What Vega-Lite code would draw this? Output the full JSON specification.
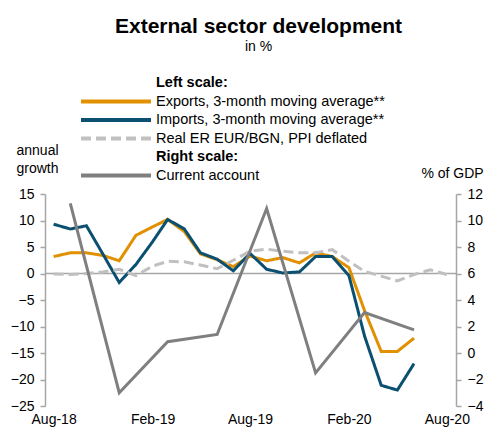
{
  "$schema": "https://vega.github.io/schema/vega-lite/v6.json",
  "width": 411,
  "height": 212,
  "autosize": {"type": "none"},
  "padding": {"left": 45, "top": 194, "right": 32, "bottom": 24},
  "config": {
    "font": "Liberation Sans",
    "view": {"stroke": null},
    "axis": {"grid": false, "labelOverlap": false}
  },
  "title": {
    "text": "External sector development",
    "subtitle": "in %",
    "fontSize": 21,
    "fontWeight": "bold",
    "color": "black",
    "subtitleFontSize": 14,
    "subtitleColor": "black",
    "subtitlePadding": 3,
    "anchor": "middle",
    "frame": "group",
    "dx": 8,
    "offset": 20
  },
  "datasets": {
    "main": [
      {"date": "2018-08-01T00:00", "series": "Exports, 3-month moving average**", "value": 3.2},
      {"date": "2018-09-01T00:00", "series": "Exports, 3-month moving average**", "value": 3.9},
      {"date": "2018-10-01T00:00", "series": "Exports, 3-month moving average**", "value": 3.9},
      {"date": "2018-11-01T00:00", "series": "Exports, 3-month moving average**", "value": 3.4},
      {"date": "2018-12-01T00:00", "series": "Exports, 3-month moving average**", "value": 2.4},
      {"date": "2019-01-01T00:00", "series": "Exports, 3-month moving average**", "value": 7.2},
      {"date": "2019-02-01T00:00", "series": "Exports, 3-month moving average**", "value": 8.8},
      {"date": "2019-03-01T00:00", "series": "Exports, 3-month moving average**", "value": 10.2},
      {"date": "2019-04-01T00:00", "series": "Exports, 3-month moving average**", "value": 7.9},
      {"date": "2019-05-01T00:00", "series": "Exports, 3-month moving average**", "value": 3.7},
      {"date": "2019-06-01T00:00", "series": "Exports, 3-month moving average**", "value": 2.6},
      {"date": "2019-07-01T00:00", "series": "Exports, 3-month moving average**", "value": 1.3},
      {"date": "2019-08-01T00:00", "series": "Exports, 3-month moving average**", "value": 3.3},
      {"date": "2019-09-01T00:00", "series": "Exports, 3-month moving average**", "value": 2.4},
      {"date": "2019-10-01T00:00", "series": "Exports, 3-month moving average**", "value": 3.0},
      {"date": "2019-11-01T00:00", "series": "Exports, 3-month moving average**", "value": 2.0},
      {"date": "2019-12-01T00:00", "series": "Exports, 3-month moving average**", "value": 3.9},
      {"date": "2020-01-01T00:00", "series": "Exports, 3-month moving average**", "value": 3.2},
      {"date": "2020-02-01T00:00", "series": "Exports, 3-month moving average**", "value": 1.1},
      {"date": "2020-03-01T00:00", "series": "Exports, 3-month moving average**", "value": -7.0},
      {"date": "2020-04-01T00:00", "series": "Exports, 3-month moving average**", "value": -14.7},
      {"date": "2020-05-01T00:00", "series": "Exports, 3-month moving average**", "value": -14.7},
      {"date": "2020-06-01T00:00", "series": "Exports, 3-month moving average**", "value": -12.2},
      {"date": "2018-08-01T00:00", "series": "Imports, 3-month moving average**", "value": 9.3},
      {"date": "2018-09-01T00:00", "series": "Imports, 3-month moving average**", "value": 8.4},
      {"date": "2018-10-01T00:00", "series": "Imports, 3-month moving average**", "value": 9.0},
      {"date": "2018-11-01T00:00", "series": "Imports, 3-month moving average**", "value": 3.6},
      {"date": "2018-12-01T00:00", "series": "Imports, 3-month moving average**", "value": -1.7},
      {"date": "2019-01-01T00:00", "series": "Imports, 3-month moving average**", "value": 1.7},
      {"date": "2019-02-01T00:00", "series": "Imports, 3-month moving average**", "value": 6.0},
      {"date": "2019-03-01T00:00", "series": "Imports, 3-month moving average**", "value": 10.2},
      {"date": "2019-04-01T00:00", "series": "Imports, 3-month moving average**", "value": 8.4},
      {"date": "2019-05-01T00:00", "series": "Imports, 3-month moving average**", "value": 3.9},
      {"date": "2019-06-01T00:00", "series": "Imports, 3-month moving average**", "value": 2.7},
      {"date": "2019-07-01T00:00", "series": "Imports, 3-month moving average**", "value": 0.5},
      {"date": "2019-08-01T00:00", "series": "Imports, 3-month moving average**", "value": 3.8},
      {"date": "2019-09-01T00:00", "series": "Imports, 3-month moving average**", "value": 0.8},
      {"date": "2019-10-01T00:00", "series": "Imports, 3-month moving average**", "value": 0.1},
      {"date": "2019-11-01T00:00", "series": "Imports, 3-month moving average**", "value": 0.3},
      {"date": "2019-12-01T00:00", "series": "Imports, 3-month moving average**", "value": 3.2},
      {"date": "2020-01-01T00:00", "series": "Imports, 3-month moving average**", "value": 3.2},
      {"date": "2020-02-01T00:00", "series": "Imports, 3-month moving average**", "value": -0.4},
      {"date": "2020-03-01T00:00", "series": "Imports, 3-month moving average**", "value": -11.8},
      {"date": "2020-04-01T00:00", "series": "Imports, 3-month moving average**", "value": -21.1},
      {"date": "2020-05-01T00:00", "series": "Imports, 3-month moving average**", "value": -22.0},
      {"date": "2020-06-01T00:00", "series": "Imports, 3-month moving average**", "value": -17.0},
      {"date": "2018-08-01T00:00", "series": "Real ER EUR/BGN, PPI deflated", "value": -0.1},
      {"date": "2018-09-01T00:00", "series": "Real ER EUR/BGN, PPI deflated", "value": -0.2},
      {"date": "2018-10-01T00:00", "series": "Real ER EUR/BGN, PPI deflated", "value": 0.0},
      {"date": "2018-11-01T00:00", "series": "Real ER EUR/BGN, PPI deflated", "value": 0.3},
      {"date": "2018-12-01T00:00", "series": "Real ER EUR/BGN, PPI deflated", "value": 0.8},
      {"date": "2019-01-01T00:00", "series": "Real ER EUR/BGN, PPI deflated", "value": -0.4},
      {"date": "2019-02-01T00:00", "series": "Real ER EUR/BGN, PPI deflated", "value": 1.4},
      {"date": "2019-03-01T00:00", "series": "Real ER EUR/BGN, PPI deflated", "value": 2.3},
      {"date": "2019-04-01T00:00", "series": "Real ER EUR/BGN, PPI deflated", "value": 2.2},
      {"date": "2019-05-01T00:00", "series": "Real ER EUR/BGN, PPI deflated", "value": 1.6},
      {"date": "2019-06-01T00:00", "series": "Real ER EUR/BGN, PPI deflated", "value": 0.9},
      {"date": "2019-07-01T00:00", "series": "Real ER EUR/BGN, PPI deflated", "value": 2.5},
      {"date": "2019-08-01T00:00", "series": "Real ER EUR/BGN, PPI deflated", "value": 4.2},
      {"date": "2019-09-01T00:00", "series": "Real ER EUR/BGN, PPI deflated", "value": 4.6},
      {"date": "2019-10-01T00:00", "series": "Real ER EUR/BGN, PPI deflated", "value": 4.2},
      {"date": "2019-11-01T00:00", "series": "Real ER EUR/BGN, PPI deflated", "value": 3.9},
      {"date": "2019-12-01T00:00", "series": "Real ER EUR/BGN, PPI deflated", "value": 3.9},
      {"date": "2020-01-01T00:00", "series": "Real ER EUR/BGN, PPI deflated", "value": 4.5},
      {"date": "2020-02-01T00:00", "series": "Real ER EUR/BGN, PPI deflated", "value": 2.3},
      {"date": "2020-03-01T00:00", "series": "Real ER EUR/BGN, PPI deflated", "value": 0.4},
      {"date": "2020-04-01T00:00", "series": "Real ER EUR/BGN, PPI deflated", "value": -0.5},
      {"date": "2020-05-01T00:00", "series": "Real ER EUR/BGN, PPI deflated", "value": -1.4},
      {"date": "2020-06-01T00:00", "series": "Real ER EUR/BGN, PPI deflated", "value": -0.2},
      {"date": "2020-07-01T00:00", "series": "Real ER EUR/BGN, PPI deflated", "value": 0.7},
      {"date": "2020-08-01T00:00", "series": "Real ER EUR/BGN, PPI deflated", "value": -0.2},
      {"date": "2018-09-01T00:00", "series": "Current account", "value": 11.3},
      {"date": "2018-12-01T00:00", "series": "Current account", "value": -3.0},
      {"date": "2019-03-01T00:00", "series": "Current account", "value": 0.85},
      {"date": "2019-06-01T00:00", "series": "Current account", "value": 1.4},
      {"date": "2019-09-01T00:00", "series": "Current account", "value": 10.9},
      {"date": "2019-12-01T00:00", "series": "Current account", "value": -1.5},
      {"date": "2020-03-01T00:00", "series": "Current account", "value": 3.05},
      {"date": "2020-06-01T00:00", "series": "Current account", "value": 1.75}
    ]
  },
  "layer": [
    {
      "layer": [
        {
          "data": {"values": [{"zero": 0}]},
          "mark": {"type": "rule", "color": "#A6A6A6", "strokeWidth": 1.5},
          "encoding": {
            "y": {
              "field": "zero",
              "type": "quantitative",
              "scale": {"domain": [-25, 15], "nice": false, "zero": false},
              "axis": {
                "orient": "left",
                "values": [-25, -20, -15, -10, -5, 0, 5, 10, 15],
                "title": ["annual", "growth"],
                "titleAngle": 0,
                "titleX": -8,
                "titleY": -40,
                "titleAlign": "center",
                "titleBaseline": "alphabetic",
                "titleFontWeight": "normal",
                "titleFontSize": 14,
                "titleColor": "black",
                "titleLineHeight": 18,
                "domainColor": "#A6A6A6",
                "domainWidth": 1.5,
                "tickColor": "#A6A6A6",
                "tickWidth": 1.5,
                "tickSize": 5,
                "labelFontSize": 14,
                "labelColor": "black",
                "labelPadding": 6,
                "labelOverlap": false,
                "labelFlush": false
              }
            }
          }
        },
        {
          "data": {"name": "main"},
          "transform": [{"filter": "datum.series != 'Current account'"}],
          "mark": {"type": "line", "strokeWidth": 3},
          "encoding": {
            "x": {
              "field": "date",
              "type": "temporal",
              "scale": {"domain": [{"year": 2018, "month": 7, "date": 16}, {"year": 2020, "month": 8, "date": 18}]},
              "axis": {
                "title": null,
                "domain": false,
                "ticks": false,
                "labelPadding": 6,
                "labelFontSize": 14,
                "labelColor": "black",
                "labelFlush": false,
                "labelOverlap": false,
                "format": "%b-%y",
                "values": [
                  {"year": 2018, "month": 8, "date": 1},
                  {"year": 2019, "month": 2, "date": 1},
                  {"year": 2019, "month": 8, "date": 1},
                  {"year": 2020, "month": 2, "date": 1},
                  {"year": 2020, "month": 8, "date": 1}
                ]
              }
            },
            "y": {
              "field": "value",
              "type": "quantitative",
              "scale": {"domain": [-25, 15], "nice": false, "zero": false},
              "axis": {
                "orient": "left",
                "values": [-25, -20, -15, -10, -5, 0, 5, 10, 15],
                "title": ["annual", "growth"],
                "titleAngle": 0,
                "titleX": -8,
                "titleY": -40,
                "titleAlign": "center",
                "titleBaseline": "alphabetic",
                "titleFontWeight": "normal",
                "titleFontSize": 14,
                "titleColor": "black",
                "titleLineHeight": 18,
                "domainColor": "#A6A6A6",
                "domainWidth": 1.5,
                "tickColor": "#A6A6A6",
                "tickWidth": 1.5,
                "tickSize": 5,
                "labelFontSize": 14,
                "labelColor": "black",
                "labelPadding": 6,
                "labelOverlap": false,
                "labelFlush": false
              }
            },
            "color": {
              "field": "series",
              "type": "nominal",
              "scale": {
                "domain": ["Left scale:", "Exports, 3-month moving average**", "Imports, 3-month moving average**", "Real ER EUR/BGN, PPI deflated", "Right scale:", "Current account"],
                "range": ["transparent", "#E09000", "#0B4F71", "#C0C0C0", "transparent", "#7F7F7F"]
              },
              "legend": {
                "title": null,
                "orient": "none",
                "legendX": 62,
                "legendY": -120,
                "symbolType": "M-5,0H5",
                "symbolSize": 196,
                "symbolStrokeWidth": 4,
                "labelFontSize": 14.5,
                "labelColor": "black",
                "labelOffset": 31,
                "rowPadding": 1.5,
                "labelLimit": 400,
                "encode": {
                  "symbols": {"update": {"strokeDash": {"signal": "datum.label == 'Real ER EUR/BGN, PPI deflated' ? [10, 5] : [1, 0]"}}},
                  "labels": {"update": {"fontWeight": {"signal": "indexof(datum.label, 'scale:') >= 0 ? 'bold' : 'normal'"}}}
                }
              }
            },
            "strokeDash": {
              "condition": {"test": "datum.series == 'Real ER EUR/BGN, PPI deflated'", "value": [10, 5]},
              "value": [1, 0]
            }
          }
        }
      ]
    },
    {
      "data": {"name": "main"},
      "transform": [{"filter": "datum.series == 'Current account'"}],
      "mark": {"type": "line", "strokeWidth": 3},
      "encoding": {
        "x": {"field": "date", "type": "temporal"},
        "y": {
          "field": "value",
          "type": "quantitative",
          "scale": {"domain": [-4, 12], "nice": false, "zero": false},
          "axis": {
            "orient": "right",
            "values": [-4, -2, 0, 2, 4, 6, 8, 10, 12],
            "title": "% of GDP",
            "titleAngle": 0,
            "titleX": -4,
            "titleY": -17,
            "titleAlign": "center",
            "titleBaseline": "alphabetic",
            "titleFontWeight": "normal",
            "titleFontSize": 14,
            "titleColor": "black",
            "domainColor": "#A6A6A6",
            "domainWidth": 1.5,
            "tickColor": "#A6A6A6",
            "tickWidth": 1.5,
            "tickSize": 5,
            "labelFontSize": 14,
            "labelColor": "black",
            "labelPadding": 6,
            "labelOverlap": false,
            "labelFlush": false
          }
        },
        "color": {"field": "series", "type": "nominal"}
      }
    }
  ],
  "resolve": {"scale": {"y": "independent"}}
}
